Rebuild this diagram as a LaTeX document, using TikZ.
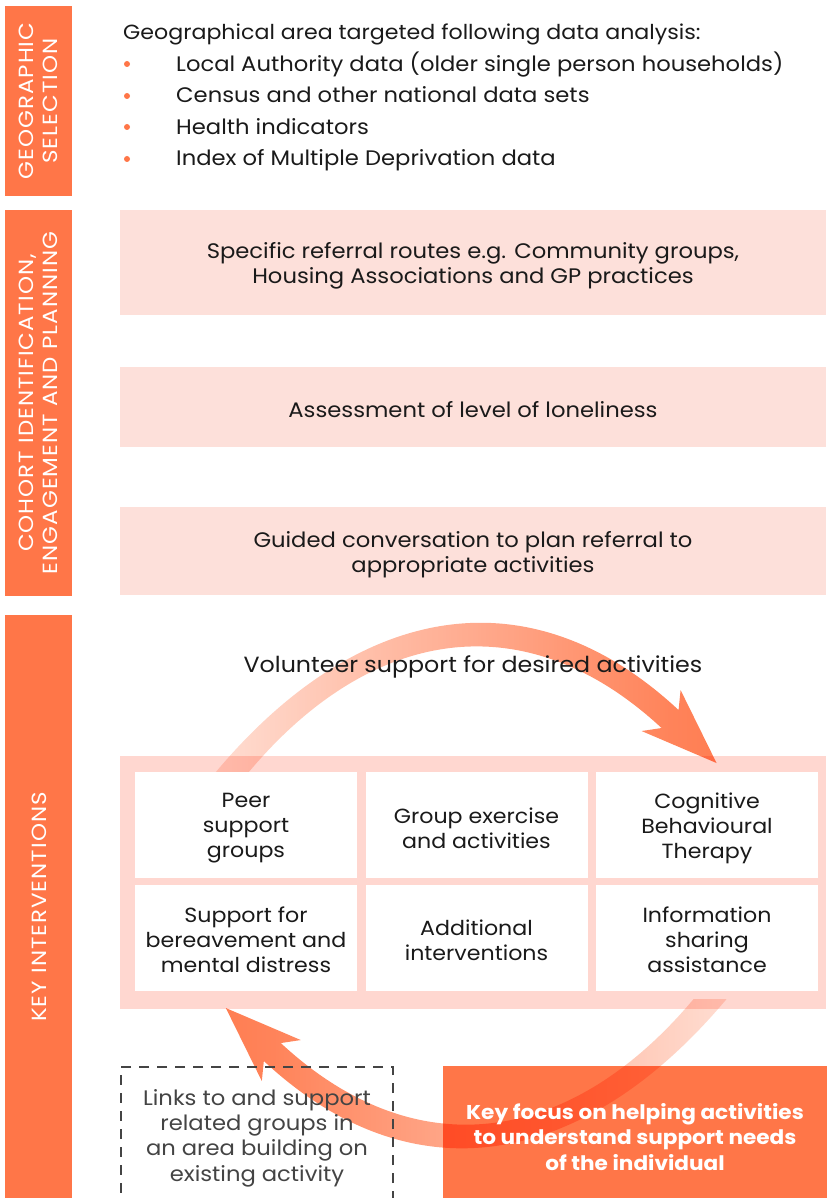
\documentclass[tikz,border=0pt]{standalone}
\usepackage{fontspec}
\setmainfont{Poppins}
\newfontfamily\bodyfont{Poppins}[FakeStretch=1.08]
\newfontfamily\sidefont{Poppins}[FakeStretch=1.12, LetterSpace=5]
\usetikzlibrary{fadings}
\definecolor{orng}{RGB}{255,118,72}
\definecolor{pinkbox}{RGB}{253,224,218}
\definecolor{pinkframe}{RGB}{255,215,208}
\definecolor{txt}{RGB}{26,26,26}
\definecolor{dashgray}{RGB}{68,68,68}
\pgfdeclarehorizontalshading{shR}{100bp}{color(0bp)=(black!90); color(15bp)=(black!90); color(70bp)=(black!10); color(82bp)=(white); color(100bp)=(white)}
\pgfdeclarefading{fadeR}{\pgfuseshading{shR}}
\pgfdeclarehorizontalshading{shL}{100bp}{color(0bp)=(white); color(18bp)=(white); color(30bp)=(black!10); color(85bp)=(black!90); color(100bp)=(black!90)}
\pgfdeclarefading{fadeL}{\pgfuseshading{shL}}
\tikzset{
  sidebar/.style={fill=orng, draw=none, inner sep=0pt, minimum width=67},
  sidelabel/.style={rotate=90, text=white, align=center, font=\sidefont\fontsize{20.5}{24}\selectfont},
  pinkrow/.style={fill=pinkbox, draw=none, inner sep=0pt, minimum width=706, align=center, text=txt, font=\bodyfont\fontsize{21}{25}\selectfont},
  cell/.style={fill=white, draw=none, inner sep=0pt, minimum width=222, minimum height=106, align=center, text=txt, font=\bodyfont\fontsize{20.5}{25}\selectfont},
  bodytext/.style={text=txt, inner sep=0pt, font=\bodyfont\fontsize{21}{25}\selectfont},
  bulletdot/.style={fill=orng, draw=none, circle, inner sep=0pt, minimum size=6},
  arrowband/.style={fill=orng, blend mode=multiply},
}
\begin{document}
\begin{tikzpicture}[x=1pt,y=-1pt]
\useasboundingbox (0,0) rectangle (827,1198);
% sidebars
\node[sidebar, minimum height=190] (geo) at (38.5,101) {};
\node[sidelabel] (geolab) at (geo.center) {GEOGRAPHIC\\SELECTION};
\node[sidebar, minimum height=386] (coh) at (38.5,403) {};
\node[sidelabel] (cohlab) at (coh.center) {COHORT IDENTIFICATION,\\ENGAGEMENT AND PLANNING};
\node[sidebar, minimum height=600] (key) at (38.5,915) {};
\node[sidelabel] (keylab) at (39,907) {KEY INTERVENTIONS};
% geographic text
\node[bodytext, anchor=base west, font=\bodyfont\fontsize{20.5}{25}\selectfont] (geotitle) at (123,39.5) {Geographical area targeted following data analysis:};
\node[bulletdot] (b1) at (127,64) {};
\node[bulletdot] (b2) at (127,96) {};
\node[bulletdot] (b3) at (127,127) {};
\node[bulletdot] (b4) at (127,159) {};
\node[bodytext, anchor=base west] (t1) at (176,71.5) {Local Authority data (older single person households)};
\node[bodytext, anchor=base west] (t2) at (176,103) {Census and other national data sets};
\node[bodytext, anchor=base west] (t3) at (176,134.5) {Health indicators};
\node[bodytext, anchor=base west] (t4) at (176,166) {Index of Multiple Deprivation data};
% cohort boxes
\node[pinkrow, minimum height=105] (ref) at (473,262.5) {};
\node[pinkrow] (reftext) at (473,266) {Specific referral routes e.g. Community groups,\\Housing Associations and GP practices};
\node[pinkrow, minimum height=80] (assess) at (473,407) {};
\node[pinkrow] (assesstext) at (473,410) {Assessment of level of loneliness};
\node[pinkrow, minimum height=88] (guided) at (473,551) {};
\node[pinkrow] (guidedtext) at (473,555) {Guided conversation to plan referral to\\appropriate activities};
% interventions container
\node[fill=pinkframe, draw=none, inner sep=0pt, minimum width=706, minimum height=253] (frame) at (473,882.5) {};
% arrows
\fill[arrowband, path fading=fadeR] (216,772) .. controls (355.5,605.8) and (527.2,568.7) .. (679,710) -- (681,690) -- (717,763) -- (642,731) -- (662,728) .. controls (527.7,603.3) and (373.1,624.2) .. (249,772) -- cycle;
% cells
\node[cell] (peer) at (246,825) {};
\node[cell] (group) at (476.5,825) {};
\node[cell] (cbt) at (707,825) {};
\node[cell] (bereave) at (246,938) {};
\node[cell] (additional) at (476.5,938) {};
\node[cell] (info) at (707,938) {};
\node[cell, fill=none, minimum height=0] (peertext) at (246,828) {Peer\\support\\groups};
\node[cell, fill=none, minimum height=0] (grouptext) at (476.5,828) {Group exercise\\and activities};
\node[cell, fill=none, minimum height=0] (cbttext) at (707,828) {Cognitive\\Behavioural\\Therapy};
\node[cell, fill=none, minimum height=0] (bereavetext) at (246,940) {Support for\\bereavement and\\mental distress};
\node[cell, fill=none, minimum height=0] (additionaltext) at (476.5,940) {Additional\\interventions};
\node[cell, fill=none, minimum height=0] (infotext) at (707,940) {Information\\sharing\\assistance};
\node[text=txt, inner sep=0pt, font=\bodyfont\fontsize{22}{26}\selectfont] (volunteer) at (473,667) {Volunteer support for desired activities};
% key focus box
\node[fill=orng, draw=none, inner sep=0pt, minimum width=384, minimum height=132] (focus) at (635,1132) {};
\fill[arrowband, path fading=fadeL] (727,999) .. controls (587.5,1165.2) and (415.8,1202.3) .. (264,1061) -- (262,1081) -- (226,1008) -- (301,1040) -- (281,1043) .. controls (415.3,1167.7) and (569.9,1146.8) .. (694,999) -- cycle;
\node[text=white, align=center, inner sep=0pt, font=\bodyfont\bfseries\fontsize{20}{25.5}\selectfont] (focustext) at (635,1137) {Key focus on helping activities\\to understand support needs\\of the individual};
% dashed box
\node[draw=dashgray, line width=2.5pt, dash pattern=on 10pt off 8pt, inner sep=0pt, minimum width=272, minimum height=150] (links) at (257,1142) {};
\node[text=dashgray, align=center, inner sep=0pt, font=\bodyfont\fontsize{21}{25.3}\selectfont] (linkstext) at (257,1138) {Links to and support\\related groups in\\an area building on\\existing activity};
\end{tikzpicture}
\end{document}
